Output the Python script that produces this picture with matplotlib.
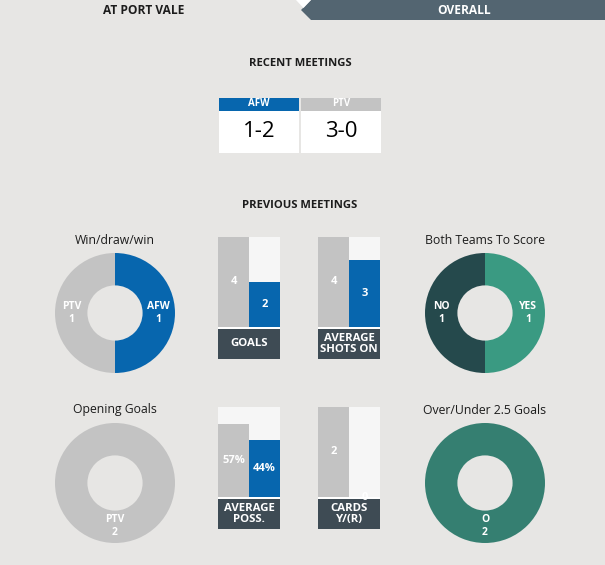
import math

import matplotlib

matplotlib.use("Agg")
import matplotlib.pyplot as plt
from matplotlib.patches import Polygon, Rectangle

plt.rcParams["font.family"] = ["Open Sans", "DejaVu Sans"]

# --- data -------------------------------------------------------------
recent_teams = ["AFW", "PTV"]
recent_scores = ["1-2", "3-0"]

wdw_labels = ["AFW", "Draw", "PTV"]
wdw_values = [1, 0, 1]

btts_labels = ["YES", "NO"]
btts_values = [1, 1]

opening_labels = ["AFW", "PTV"]
opening_values = [0, 2]

ou_labels = ["O", "U"]
ou_values = [2, 0]

goals = [4, 2]
shots_on = [4, 3]
possession = [57, 44]
cards = [2, 0]

# --- colours ----------------------------------------------------------
BG = "#e7e6e4"
GREY = "#c3c3c3"
BLUE = "#0766ae"
EMPTY = "#f6f6f6"
LABEL_BOX = "#3e4b54"
SLATE = "#536571"
DARK = "#1c1c1c"

W, H = 605, 565
fig = plt.figure(figsize=(W / 100, H / 100), dpi=100, facecolor=BG)
bg = fig.add_axes([0, 0, 1, 1])
bg.set_xlim(0, W)
bg.set_ylim(H, 0)
bg.axis("off")


def px_axes(x, y, w, h):
    return fig.add_axes([x / W, 1 - (y + h) / H, w / W, h / H])


# header tabs
bg.add_patch(Polygon([(311, 0), (W, 0), (W, 20), (311, 20), (301, 10)],
                     closed=True, color=SLATE, lw=0))
bg.add_patch(Polygon([(296, 0), (311, 0), (303.5, 8)], closed=True,
                     color="white", lw=0))
bg.text(144, 10, "AT PORT VALE", ha="center", va="center", fontsize=8.6,
        fontweight="bold", color=DARK)
bg.text(464, 10, "OVERALL", ha="center", va="center", fontsize=8.6,
        fontweight="bold", color="white")

bg.text(300, 64, "RECENT MEETINGS", ha="center", va="center", fontsize=8.1,
        fontweight="bold", color=DARK)
bg.text(300, 205, "PREVIOUS MEETINGS", ha="center", va="center", fontsize=8.1,
        fontweight="bold", color=DARK)

# recent meetings boxes
head_cols = [BLUE, GREY]
for i, (team, score) in enumerate(zip(recent_teams, recent_scores)):
    x0 = 219 + i * 82
    bg.add_patch(Rectangle((x0, 98), 80, 13, color=head_cols[i], lw=0))
    bg.add_patch(Rectangle((x0, 111), 80, 42, color="white", lw=0))
    bg.text(x0 + 40, 104, team, ha="center", va="center", fontsize=7,
            fontweight="bold", color="white")
    bg.text(x0 + 40, 131.5, score, ha="center", va="center", fontsize=16,
            color="black")


def donut(cx, cy, title, values, labels, colors):
    r = 60
    ax = px_axes(cx - r, cy - r, 2 * r, 2 * r)
    ax.pie(values, colors=colors, radius=1, startangle=90, counterclock=False,
           wedgeprops=dict(width=0.54, linewidth=0))
    ax.set_xlim(-1, 1)
    ax.set_ylim(-1, 1)
    ax.axis("off")
    bg.text(cx, cy - 73, title, ha="center", va="center", fontsize=8.8,
            color=DARK)
    total = sum(values)
    start = 90.0
    for v, lab in zip(values, labels):
        if v == 0:
            continue
        ang = start - 180.0 * v / total
        if v == total:
            ang = -90.0
        tx = 0.72 * math.cos(math.radians(ang))
        ty = 0.72 * math.sin(math.radians(ang))
        ax.text(tx, ty, f"{lab}\n{v}", ha="center", va="center", fontsize=7.5,
                fontweight="bold", color="white", linespacing=1.25)
        start -= 360.0 * v / total


donut(115, 313, "Win/draw/win", wdw_values, wdw_labels, [BLUE, "#888888", GREY])
donut(485, 313, "Both Teams To Score", btts_values, btts_labels,
      ["#3a9a82", "#25494c"])
donut(115, 483, "Opening Goals", opening_values, opening_labels, [BLUE, GREY])
donut(485, 483, "Over/Under 2.5 Goals", ou_values, ou_labels,
      ["#357f71", "#25494c"])


def bars(x, y, values, ymax, caption, fmt="{}"):
    ax = px_axes(x, y, 62, 90)
    ax.set_zorder(3)
    ax.bar([0, 1], [ymax, ymax], width=0.968, color=EMPTY, lw=0)
    ax.bar([0, 1], values, width=0.968, color=[GREY, BLUE], lw=0)
    ax.set_xlim(-0.5, 1.5)
    ax.set_ylim(0, ymax)
    ax.axis("off")
    for i, v in enumerate(values):
        ax.text(i, v / 2, fmt.format(v), ha="center", va="center", fontsize=8,
                fontweight="bold", color="white", clip_on=False)
    bg.add_patch(Rectangle((x, y + 90), 62, 2, color="white", lw=0))
    cap = px_axes(x, y + 92, 62, 30)
    cap.set_zorder(2)
    cap.set_facecolor(LABEL_BOX)
    cap.set_xticks([])
    cap.set_yticks([])
    for s in cap.spines.values():
        s.set_visible(False)
    cap.text(0.5, 0.5, caption, ha="center", va="center", fontsize=8.2,
             fontweight="bold", color="white", linespacing=0.95,
             transform=cap.transAxes)


bars(218, 237, goals, 4, "GOALS")
bars(318, 237, shots_on, 4, "AVERAGE\nSHOTS ON")
bars(218, 407, possession, 70, "AVERAGE\nPOSS.", fmt="{}%")
bars(318, 407, cards, 2, "CARDS\nY/(R)")

fig.savefig("out.png", dpi=100, facecolor=BG)
